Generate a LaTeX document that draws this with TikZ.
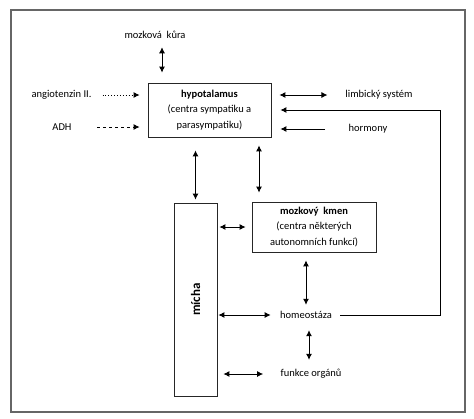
\documentclass[tikz,border=0pt]{standalone}
\usepackage{fontspec}
\setmainfont{Carlito}
\usetikzlibrary{arrows.meta}
\tikzset{
    blok/.style={draw=black!85,line width=0.8pt,inner sep=0pt,align=center},
    popis/.style={align=center},
    obe/.style={{Latex[length=6pt,width=6pt]}-{Latex[length=6pt,width=6pt]},line width=0.9pt},
    jedna/.style={-{Latex[length=6pt,width=6pt]},line width=0.9pt},
}
\begin{document}
\begin{tikzpicture}[x=1pt,y=-1pt,font=\fontsize{10.5}{15.5}\selectfont]
        \useasboundingbox (0,0) rectangle (474,418);
        %% Frame
        \draw[black!60,line width=1.2pt] (11,10) rectangle (465,412);
        %% Boxes
        \node[blok,minimum width=123pt,minimum height=54pt] (hyp) at (209.5,110)
            {\textbf{hypotalamus}\\(centra sympatiku a\\parasympatiku)};
        \node[blok,minimum width=124pt,minimum height=50pt] (kmen) at (314,227)
            {\textbf{mozkový\ \ kmen}\\(centra některých\\autonomních funkcí)};
        \node[blok,minimum width=43pt,minimum height=193pt] (micha) at (195.5,299.5) {};
        \node[rotate=90,font=\fontsize{13}{15}\selectfont\bfseries] at (micha.center) {mícha};
        %% Labels
        \node[popis] (kura) at (155,35) {mozková\ \ kůra};
        \node[popis] (angio) at (61.5,95) {angiotenzin II.};
        \node[popis] (adh) at (62,127) {ADH};
        \node[popis] (limb) at (379,95) {limbický systém};
        \node[popis] (horm) at (368,129) {hormony};
        \node[popis] (homeo) at (306,315) {homeostáza};
        \node[popis] (funk) at (311,374) {funkce orgánů};
        %% Helper points
        \coordinate (kx) at (162,0);
        \coordinate (hk) at (259,0);
        \coordinate (hf) at (309,0);
        \coordinate (fb) at (440,110);
        %% Arrows
        \draw[obe,shorten <=5pt,shorten >=10pt] (kura.south -| kx) -- (hyp.north -| kx);
        \draw[jedna,dotted,shorten <=7.5pt,shorten >=8pt] (angio.east) -- (angio.east -| hyp.west);
        \draw[jedna,dashed,shorten <=22pt,shorten >=8pt] (adh.east) -- (adh.east -| hyp.west);
        \draw[obe,shorten <=8pt,shorten >=14.5pt] (hyp.east |- limb.west) -- (limb.west);
        \draw[jedna,shorten <=20pt,shorten >=9pt] (horm.west) -- (horm.west -| hyp.east);
        \draw[jedna,shorten <=5pt,shorten >=9pt] (homeo.east) -| (fb) -- (fb -| hyp.east);
        \draw[obe,shorten <=13pt,shorten >=3pt] (hyp.south -| micha.north) -- (micha.north);
        \draw[obe,shorten <=8pt,shorten >=9pt] (hyp.south -| hk) -- (kmen.north -| hk);
        \draw[obe,shorten <=2pt,shorten >=6pt] (micha.east |- kmen.west) -- (kmen.west);
        \draw[obe,shorten <=8pt,shorten >=3pt] (kmen.south -| homeo.north) -- (homeo.north);
        \draw[obe,shorten <=1pt,shorten >=6pt] (micha.east |- homeo.west) -- (homeo.west);
        \draw[obe,shorten <=8pt,shorten >=6pt] (homeo.south -| hf) -- (funk.north -| hf);
        \draw[obe,shorten <=6pt,shorten >=14pt] (micha.east |- funk.west) -- (funk.west);
    \end{tikzpicture}
\end{document}
